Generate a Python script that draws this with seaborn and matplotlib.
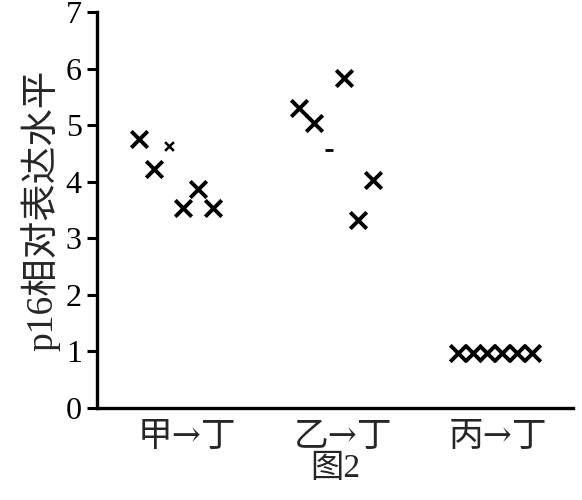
import numpy as np
import pandas as pd
import seaborn as sns
import matplotlib.pyplot as plt

# Data
groups = ['甲→丁', '乙→丁', '丙→丁']
g1_values = [4.76, 4.23, 4.63, 3.53, 3.88, 3.53]
g2_values = [5.30, 5.04, 4.56, 5.84, 3.33, 4.03]
g3_values = [0.98, 0.98, 0.98, 0.98, 0.98, 0.98]
faint = [(0, 2), (1, 2)]  # partly printed marks (group, index)
y_ticks = [0, 1, 2, 3, 4, 5, 6, 7]

sns.set_theme(style='ticks')
plt.rcParams['font.family'] = ['Liberation Serif', 'Noto Sans CJK SC']

x_start = [-0.31, -0.28, -0.26]
rows = []
for gi, vals in enumerate([g1_values, g2_values, g3_values]):
    for i, v in enumerate(vals):
        rows.append({'group': gi, 'idx': i, 'value': v,
                     'x': gi + x_start[gi] + 0.095 * i,
                     'faint': (gi, i) in faint})
df = pd.DataFrame(rows)

fig = plt.figure(figsize=(5.82, 5.0), dpi=100)
ax = fig.add_axes([0.1667, 0.184, 0.8178, 0.792])

main = df[~df['faint']]
sns.scatterplot(data=main, x='x', y='value', marker='x', s=140,
                color='black', linewidth=2.8, ax=ax, legend=False)
small1 = df[df['faint'] & (df['group'] == 0)]
sns.scatterplot(data=small1, x='x', y='value', marker='x', s=40,
                color='black', linewidth=1.8, ax=ax, legend=False)
small2 = df[df['faint'] & (df['group'] == 1)]
sns.scatterplot(data=small2, x='x', y='value', marker='_', s=30,
                color='black', linewidth=2.0, ax=ax, legend=False)

ax.set_xlim(-0.58, 2.48)
ax.set_ylim(0, 7)
ax.set_yticks(y_ticks)
ax.set_yticklabels([str(t) for t in y_ticks], fontsize=23)
ax.set_xticks([0, 1, 2])
ax.set_xticklabels(groups, fontsize=25,
                   family=['DejaVu Serif', 'Noto Sans CJK SC'])
ax.tick_params(axis='x', length=0, pad=8)
ax.tick_params(axis='y', length=7, width=2.2, pad=4, colors='black')
ax.set_xlabel('图2', fontsize=24, labelpad=0)
ax.set_ylabel('p16相对表达水平', fontsize=27, labelpad=4)
sns.despine(ax=ax)
for s in ['left', 'bottom']:
    ax.spines[s].set_linewidth(2.4)
    ax.spines[s].set_color('black')

fig.savefig('out.png', dpi=100)
